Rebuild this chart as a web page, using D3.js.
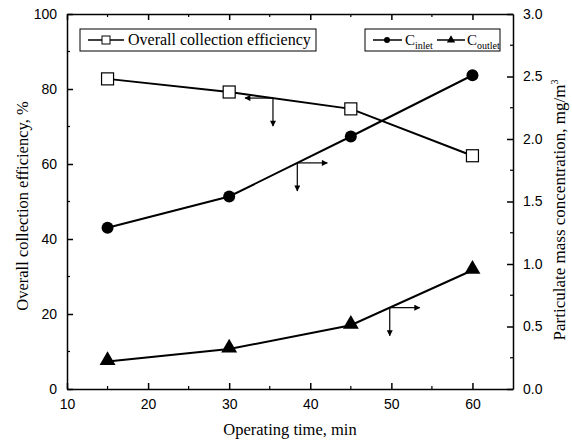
<!DOCTYPE html>
<html>
<head>
<meta charset="utf-8">
<script src="https://cdn.jsdelivr.net/npm/d3@7"></script>
<style>
  body { margin: 0; background: #fff; }
  .tick text { font-family: "Liberation Sans", Arial, sans-serif; font-size: 14px; fill: #000; }
  .ttl { font-family: "Liberation Serif", "Times New Roman", serif; font-size: 16px; fill: #000; }
</style>
</head>
<body>
<div id="chart"></div>
<script>
const times = [15, 30, 45, 60];
const efficiency = [82.7, 79.2, 74.7, 62.2];
const cInlet = [1.29, 1.54, 2.02, 2.51];
const cOutlet = [0.22, 0.32, 0.51, 0.95];
const xTicks = [10, 20, 30, 40, 50, 60];
const yLeftTicks = [0, 20, 40, 60, 80, 100];
const yRightTicks = [0, 0.5, 1.0, 1.5, 2.0, 2.5, 3.0];

const width = 572, height = 444;
const m = { left: 67, right: 59, top: 14, bottom: 55 };

const svg = d3.select("#chart").append("svg")
  .attr("width", width).attr("height", height);

const x = d3.scaleLinear().domain([10, 65]).range([m.left, width - m.right]);
const yL = d3.scaleLinear().domain([0, 100]).range([height - m.bottom, m.top]);
const yR = d3.scaleLinear().domain([0, 3]).range([height - m.bottom, m.top]);

const x0 = x.range()[0], x1 = x.range()[1];
const y0 = yL.range()[0], y1 = yL.range()[1];

// minor ticks
const g = svg.append("g").attr("stroke", "#000").attr("stroke-width", 1.2);
d3.range(15, 65, 10).forEach(v => {
  g.append("line").attr("x1", x(v)).attr("x2", x(v)).attr("y1", y0).attr("y2", y0 - 3);
  g.append("line").attr("x1", x(v)).attr("x2", x(v)).attr("y1", y1).attr("y2", y1 + 3);
});
d3.range(10, 100, 20).forEach(v => {
  g.append("line").attr("x1", x0).attr("x2", x0 + 3).attr("y1", yL(v)).attr("y2", yL(v));
});
d3.range(0.25, 3, 0.5).forEach(v => {
  g.append("line").attr("x1", x1).attr("x2", x1 - 3).attr("y1", yR(v)).attr("y2", yR(v));
});

// axes with inward ticks
const axB = svg.append("g").attr("transform", `translate(0,${y0})`)
  .call(d3.axisBottom(x).tickValues(xTicks).tickSizeInner(-6).tickSizeOuter(0).tickPadding(10));
const axT = svg.append("g").attr("transform", `translate(0,${y1})`)
  .call(d3.axisTop(x).tickValues(xTicks).tickSizeInner(-6).tickSizeOuter(0).tickFormat(""));
const axL = svg.append("g").attr("transform", `translate(${x0},0)`)
  .call(d3.axisLeft(yL).tickValues(yLeftTicks).tickSizeInner(-6).tickSizeOuter(0).tickPadding(10));
const axR = svg.append("g").attr("transform", `translate(${x1},0)`)
  .call(d3.axisRight(yR).tickValues(yRightTicks).tickSizeInner(-6).tickSizeOuter(0).tickPadding(10)
    .tickFormat(d3.format(".1f")));
[axB, axT, axL, axR].forEach(a => {
  a.selectAll("path, line").attr("stroke", "#000").attr("stroke-width", 1.5);
});

// lines
const lineL = d3.line().x((d, i) => x(times[i])).y(d => yL(d));
const lineR = d3.line().x((d, i) => x(times[i])).y(d => yR(d));
svg.append("path").datum(efficiency).attr("d", lineL)
  .attr("fill", "none").attr("stroke", "#000").attr("stroke-width", 2);
svg.append("path").datum(cInlet).attr("d", lineR)
  .attr("fill", "none").attr("stroke", "#000").attr("stroke-width", 2);
svg.append("path").datum(cOutlet).attr("d", lineR)
  .attr("fill", "none").attr("stroke", "#000").attr("stroke-width", 2);

// markers
svg.selectAll(".sq").data(efficiency).enter().append("rect")
  .attr("x", (d, i) => x(times[i]) - 6).attr("y", d => yL(d) - 6)
  .attr("width", 12).attr("height", 12)
  .attr("fill", "#fff").attr("stroke", "#000").attr("stroke-width", 1.2);
svg.selectAll(".ci").data(cInlet).enter().append("circle")
  .attr("cx", (d, i) => x(times[i])).attr("cy", d => yR(d)).attr("r", 6).attr("fill", "#000");
const tri = d3.symbol().type(d3.symbolTriangle).size(110);
svg.selectAll(".tr").data(cOutlet).enter().append("path")
  .attr("d", tri).attr("transform", (d, i) => `translate(${x(times[i])},${yR(d) - 1})`)
  .attr("fill", "#000");

// annotation arrows
svg.append("defs").append("marker").attr("id", "ah")
  .attr("viewBox", "0 0 10 10").attr("refX", 9).attr("refY", 5)
  .attr("markerWidth", 10).attr("markerHeight", 6).attr("markerUnits", "userSpaceOnUse")
  .attr("orient", "auto")
  .append("path").attr("d", "M0,0L10,5L0,10z").attr("fill", "#000");
function arrow(cx, cy, dx) {
  svg.append("line").attr("x1", cx).attr("y1", cy).attr("x2", cx + dx).attr("y2", cy)
    .attr("stroke", "#000").attr("stroke-width", 1.2).attr("marker-end", "url(#ah)");
  svg.append("line").attr("x1", cx).attr("y1", cy).attr("x2", cx).attr("y2", cy + 28)
    .attr("stroke", "#000").attr("stroke-width", 1.2).attr("marker-end", "url(#ah)");
}
const interp = (arr, t) => {
  const i = Math.min(2, Math.floor((t - 15) / 15));
  const f = (t - times[i]) / 15;
  return arr[i] + (arr[i + 1] - arr[i]) * f;
};
arrow(x(35.4), yL(interp(efficiency, 35.4)), -28);
arrow(x(38.4), yR(interp(cInlet, 38.4)), 30);
arrow(x(49.8), yR(interp(cOutlet, 49.8)), 30);

// legends
const lg1 = svg.append("g").attr("transform", "translate(80,29)");
lg1.append("rect").attr("width", 236).attr("height", 22)
  .attr("fill", "#fff").attr("stroke", "#000").attr("stroke-width", 1);
lg1.append("line").attr("x1", 8).attr("x2", 44).attr("y1", 11).attr("y2", 11)
  .attr("stroke", "#000").attr("stroke-width", 1.5);
lg1.append("rect").attr("x", 22).attr("y", 7).attr("width", 8).attr("height", 8)
  .attr("fill", "#fff").attr("stroke", "#000");
lg1.append("text").attr("class", "ttl").attr("x", 48).attr("y", 16).text("Overall collection efficiency");

const lg2 = svg.append("g").attr("transform", "translate(365,29)");
lg2.append("rect").attr("width", 135).attr("height", 22)
  .attr("fill", "#fff").attr("stroke", "#000").attr("stroke-width", 1);
lg2.append("line").attr("x1", 8).attr("x2", 37).attr("y1", 11).attr("y2", 11)
  .attr("stroke", "#000").attr("stroke-width", 1.5);
lg2.append("circle").attr("cx", 22).attr("cy", 11).attr("r", 3).attr("fill", "#000");
const t1 = lg2.append("text").attr("class", "ttl").attr("x", 40).attr("y", 16).style("font-size", "15px");
t1.append("tspan").text("C");
t1.append("tspan").attr("dy", 4).style("font-size", "10px").text("inlet");
lg2.append("line").attr("x1", 72).attr("x2", 100).attr("y1", 11).attr("y2", 11)
  .attr("stroke", "#000").attr("stroke-width", 1.5);
lg2.append("path").attr("d", d3.symbol().type(d3.symbolTriangle).size(30))
  .attr("transform", "translate(86,11)").attr("fill", "#000");
const t2 = lg2.append("text").attr("class", "ttl").attr("x", 102).attr("y", 16).style("font-size", "15px");
t2.append("tspan").text("C");
t2.append("tspan").attr("dy", 4).style("font-size", "10px").text("outlet");

// axis titles
svg.append("text").attr("class", "ttl").attr("x", (x0 + x1) / 2).attr("y", 435)
  .attr("text-anchor", "middle").style("font-size", "16.5px").text("Operating time, min");
svg.append("text").attr("class", "ttl")
  .attr("transform", `translate(28,206) rotate(-90)`)
  .attr("text-anchor", "middle").style("font-size", "16.5px").text("Overall collection efficiency, %");
const rt = svg.append("text").attr("class", "ttl")
  .attr("transform", `translate(565,210) rotate(-90)`)
  .attr("text-anchor", "middle").style("font-size", "17px");
rt.append("tspan").text("Particulate mass concentration, mg/m");
rt.append("tspan").attr("dy", -7).style("font-size", "10px").text("3");
</script>
</body>
</html>
